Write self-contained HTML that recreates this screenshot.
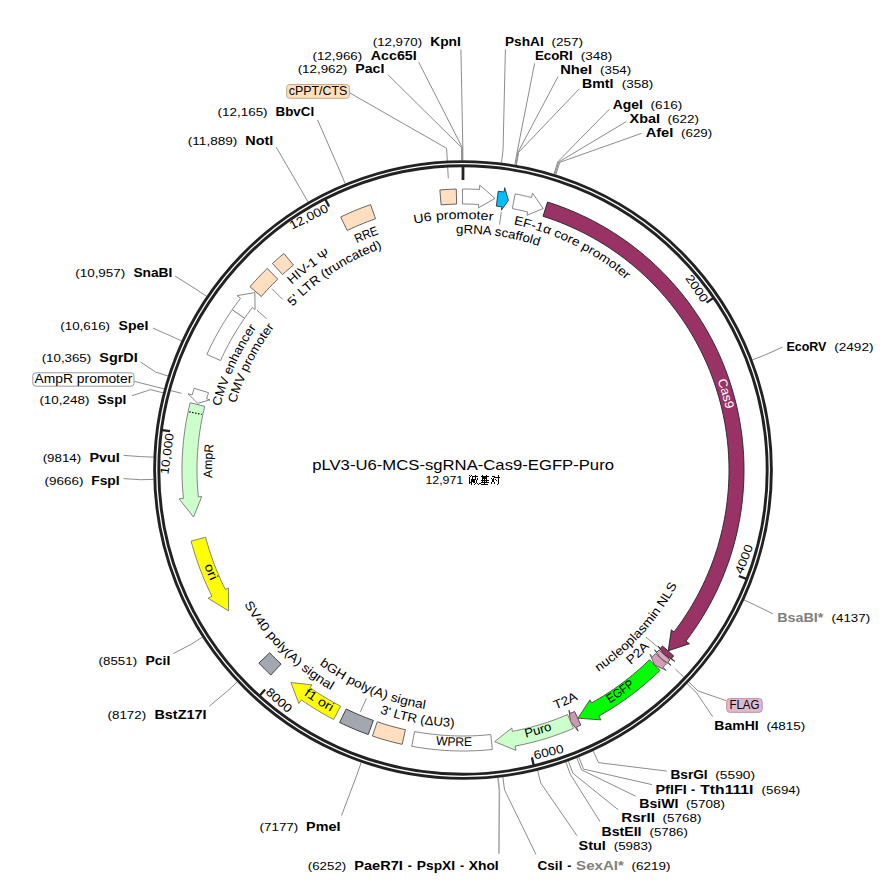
<!DOCTYPE html>
<html><head><meta charset="utf-8"><style>
html,body{margin:0;padding:0;background:#fff;width:888px;height:883px;overflow:hidden}
svg{display:block}
text{font-family:"Liberation Sans", sans-serif}
</style></head><body>
<svg width="888" height="883" viewBox="0 0 888 883">
<path d="M439.88,189.95 L443.97,189.64 L448.07,189.40 L452.18,189.21 L456.28,189.08 L456.64,204.08 L452.75,204.20 L448.87,204.38 L444.99,204.61 L441.11,204.90 Z" fill="#ffdfbf" stroke="#555" stroke-width="0.9" stroke-linejoin="miter" />
<path d="M462.51,189.00 L466.76,189.03 L471.02,189.11 L475.27,189.27 L479.52,189.49 L479.78,185.09 L495.00,198.38 L478.44,207.85 L478.64,204.46 L474.61,204.25 L470.59,204.11 L466.56,204.02 L462.54,204.00 Z" fill="#ffffff" stroke="#7a7a7a" stroke-width="0.9" stroke-linejoin="miter" />
<path d="M498.22,191.22 L501.14,191.60 L504.05,192.01 L504.69,187.66 L508.42,200.30 L501.36,210.22 L501.86,206.85 L499.10,206.46 L496.34,206.10 Z" fill="#00bfff" stroke="#333" stroke-width="0.9" stroke-linejoin="miter" />
<path d="M515.17,193.89 L519.26,194.69 L523.34,195.56 L527.41,196.48 L531.46,197.47 L532.53,193.20 L543.19,208.52 L526.97,215.31 L527.80,212.01 L523.97,211.08 L520.12,210.21 L516.26,209.39 L512.39,208.62 Z" fill="#ffffff" stroke="#7a7a7a" stroke-width="0.9" stroke-linejoin="miter" />
<path d="M547.50,202.01 L552.12,203.51 L556.72,205.09 L561.28,206.75 L565.82,208.49 L570.33,210.31 L574.81,212.20 L579.25,214.17 L583.65,216.22 L588.03,218.35 L592.36,220.55 L596.65,222.82 L600.91,225.17 L605.12,227.59 L609.29,230.09 L613.42,232.65 L617.50,235.29 L621.54,238.00 L625.53,240.77 L629.47,243.62 L633.36,246.53 L637.20,249.51 L640.99,252.56 L644.72,255.67 L648.40,258.84 L652.02,262.08 L655.59,265.38 L659.10,268.74 L662.55,272.16 L665.95,275.64 L669.28,279.18 L672.55,282.78 L675.75,286.43 L678.90,290.14 L681.97,293.90 L684.99,297.71 L687.93,301.58 L690.81,305.49 L693.62,309.46 L696.37,313.47 L699.04,317.53 L701.64,321.64 L704.17,325.79 L706.63,329.98 L709.01,334.21 L711.33,338.49 L713.56,342.80 L715.73,347.16 L717.81,351.54 L719.82,355.97 L721.76,360.43 L723.61,364.92 L725.39,369.44 L727.09,374.00 L728.71,378.58 L730.25,383.19 L731.72,387.82 L733.10,392.48 L734.40,397.17 L735.62,401.87 L736.75,406.60 L737.81,411.34 L738.78,416.10 L739.67,420.88 L740.48,425.67 L741.21,430.48 L741.85,435.29 L742.41,440.12 L742.88,444.96 L743.27,449.80 L743.58,454.65 L743.80,459.51 L743.94,464.37 L744.00,469.23 L743.97,474.09 L743.86,478.95 L743.66,483.80 L743.38,488.65 L743.02,493.50 L742.57,498.34 L742.04,503.17 L741.42,507.99 L740.72,512.80 L739.94,517.60 L739.07,522.38 L738.13,527.15 L737.10,531.90 L735.99,536.63 L734.79,541.34 L733.52,546.03 L732.16,550.70 L730.73,555.34 L729.21,559.96 L727.62,564.55 L725.94,569.11 L724.19,573.64 L722.36,578.15 L720.45,582.62 L718.46,587.05 L716.40,591.45 L714.26,595.82 L712.05,600.14 L709.76,604.43 L707.40,608.68 L704.96,612.88 L702.45,617.05 L699.87,621.17 L697.22,625.24 L694.50,629.27 L691.72,633.25 L688.86,637.18 L685.93,641.06 L689.42,643.74 L668.22,650.80 L671.33,629.86 L674.03,631.93 L676.80,628.26 L679.51,624.54 L682.15,620.77 L684.72,616.95 L687.23,613.10 L689.67,609.20 L692.04,605.26 L694.35,601.28 L696.59,597.25 L698.75,593.20 L700.85,589.10 L702.87,584.97 L704.82,580.80 L706.70,576.60 L708.51,572.37 L710.25,568.11 L711.90,563.82 L713.49,559.50 L715.00,555.16 L716.44,550.79 L717.80,546.39 L719.08,541.97 L720.28,537.53 L721.41,533.07 L722.47,528.59 L723.44,524.10 L724.34,519.58 L725.16,515.06 L725.90,510.52 L726.56,505.96 L727.14,501.40 L727.64,496.83 L728.07,492.25 L728.41,487.66 L728.68,483.07 L728.87,478.47 L728.97,473.87 L729.00,469.27 L728.95,464.67 L728.81,460.07 L728.60,455.47 L728.31,450.88 L727.94,446.30 L727.49,441.72 L726.96,437.15 L726.36,432.59 L725.67,428.04 L724.90,423.50 L724.06,418.98 L723.14,414.47 L722.14,409.98 L721.06,405.51 L719.91,401.05 L718.68,396.62 L717.37,392.21 L715.99,387.82 L714.53,383.46 L712.99,379.12 L711.38,374.81 L709.70,370.53 L707.94,366.28 L706.11,362.06 L704.21,357.87 L702.23,353.71 L700.19,349.59 L698.07,345.51 L695.88,341.46 L693.62,337.45 L691.30,333.48 L688.90,329.56 L686.44,325.67 L683.91,321.83 L681.31,318.03 L678.65,314.28 L675.93,310.57 L673.14,306.91 L670.29,303.30 L667.37,299.74 L664.40,296.23 L661.36,292.77 L658.27,289.37 L655.11,286.02 L651.90,282.72 L648.63,279.49 L645.31,276.30 L641.93,273.18 L638.50,270.11 L635.02,267.11 L631.49,264.16 L627.90,261.28 L624.27,258.46 L620.58,255.70 L616.85,253.01 L613.08,250.38 L609.26,247.82 L605.39,245.32 L601.49,242.89 L597.54,240.53 L593.55,238.24 L589.52,236.02 L585.45,233.86 L581.35,231.78 L577.21,229.77 L573.04,227.83 L568.84,225.96 L564.60,224.17 L560.33,222.45 L556.04,220.80 L551.71,219.23 L547.36,217.73 L542.99,216.31 Z" fill="#993366" stroke="#222" stroke-width="0.9" stroke-linejoin="miter" />
<path d="M673.72,655.90 L671.50,658.39 L674.76,661.34 L664.48,654.95 L657.84,646.05 L660.37,648.33 L662.47,645.98 Z" fill="#993366" stroke="#222" stroke-width="0.9" stroke-linejoin="miter" />
<path d="M670.01,660.02 L667.84,662.36 L671.05,665.37 L661.06,658.61 L654.43,649.76 L656.91,652.09 L658.96,649.88 Z" fill="#d7a6c0" stroke="#444" stroke-width="0.9" stroke-linejoin="miter" />
<path d="M666.49,663.78 L664.79,665.55 L663.08,667.31 L666.21,670.39 L654.70,665.07 L649.98,654.39 L652.40,656.77 L654.02,655.11 L655.63,653.44 Z" fill="#d49ebb" stroke="#555" stroke-width="0.9" stroke-linejoin="miter" />
<path d="M659.96,670.42 L656.52,673.75 L653.02,677.01 L649.47,680.21 L645.87,683.36 L642.21,686.44 L638.50,689.45 L634.74,692.41 L630.93,695.30 L627.07,698.12 L623.17,700.88 L619.22,703.57 L615.22,706.20 L611.18,708.76 L607.09,711.24 L602.97,713.66 L598.80,716.01 L600.93,719.86 L577.94,718.18 L589.91,699.90 L591.55,702.87 L595.50,700.65 L599.40,698.36 L603.27,696.01 L607.09,693.59 L610.88,691.11 L614.62,688.56 L618.32,685.95 L621.97,683.27 L625.57,680.54 L629.13,677.74 L632.64,674.88 L636.11,671.97 L639.52,668.99 L642.88,665.96 L646.19,662.87 L649.44,659.72 Z" fill="#00ff00" stroke="#444" stroke-width="0.9" stroke-linejoin="miter" />
<path d="M580.87,725.09 L578.64,726.10 L576.40,727.10 L578.17,731.13 L570.52,721.48 L568.97,710.27 L570.34,713.38 L572.46,712.43 L574.57,711.47 Z" fill="#cc99b2" stroke="#444" stroke-width="0.9" stroke-linejoin="miter" />
<path d="M573.47,728.37 L569.14,730.18 L564.77,731.92 L560.38,733.59 L555.96,735.18 L551.52,736.69 L547.05,738.14 L542.56,739.50 L538.04,740.80 L533.50,742.01 L528.95,743.15 L524.37,744.22 L519.78,745.20 L515.17,746.11 L515.99,750.44 L494.67,741.66 L511.76,728.03 L512.39,731.38 L516.75,730.51 L521.10,729.58 L525.43,728.57 L529.74,727.49 L534.03,726.34 L538.31,725.12 L542.56,723.82 L546.79,722.46 L551.00,721.02 L555.18,719.52 L559.34,717.94 L563.47,716.30 L567.58,714.58 Z" fill="#ccffcc" stroke="#777" stroke-width="0.9" stroke-linejoin="miter" />
<path d="M492.37,749.46 L487.63,749.92 L482.89,750.30 L478.14,750.59 L473.38,750.81 L468.63,750.94 L463.87,751.00 L459.11,750.97 L454.35,750.87 L449.59,750.68 L444.84,750.41 L440.09,750.06 L435.35,749.64 L430.62,749.13 L425.89,748.54 L421.18,747.87 L416.48,747.12 L411.79,746.29 L414.53,731.55 L418.96,732.33 L423.41,733.04 L427.87,733.67 L432.35,734.23 L436.83,734.71 L441.31,735.11 L445.81,735.44 L450.31,735.70 L454.81,735.87 L459.31,735.97 L463.82,736.00 L468.32,735.95 L472.83,735.82 L477.33,735.61 L481.83,735.33 L486.32,734.98 L490.80,734.54 Z" fill="#ffffff" stroke="#7a7a7a" stroke-width="0.9" stroke-linejoin="miter" />
<path d="M402.18,744.34 L397.88,743.35 L393.59,742.29 L389.32,741.17 L385.07,739.98 L380.84,738.72 L376.63,737.40 L372.44,736.01 L377.28,721.81 L381.24,723.12 L385.23,724.38 L389.23,725.57 L393.26,726.69 L397.30,727.76 L401.36,728.76 L405.43,729.69 Z" fill="#ffdfbf" stroke="#555" stroke-width="0.9" stroke-linejoin="miter" />
<path d="M368.28,734.55 L364.10,733.02 L359.95,731.42 L355.82,729.76 L351.72,728.03 L347.65,726.23 L343.61,724.38 L339.60,722.45 L346.18,708.98 L349.98,710.80 L353.81,712.56 L357.66,714.25 L361.54,715.89 L365.45,717.47 L369.38,718.98 L373.33,720.43 Z" fill="#a3a8b0" stroke="#333" stroke-width="0.9" stroke-linejoin="miter" />
<path d="M333.68,719.48 L329.51,717.27 L325.38,714.99 L321.28,712.65 L317.22,710.23 L313.21,707.75 L309.24,705.20 L305.31,702.58 L301.42,699.90 L298.89,703.50 L290.88,682.55 L312.00,684.85 L310.05,687.63 L313.73,690.17 L317.45,692.64 L321.21,695.06 L325.01,697.41 L328.85,699.69 L332.72,701.91 L336.64,704.07 L340.59,706.16 Z" fill="#ffff00" stroke="#777" stroke-width="0.9" stroke-linejoin="miter" />
<path d="M270.82,675.01 L267.76,672.09 L264.74,669.13 L261.76,666.12 L258.83,663.07 L269.73,652.77 L272.50,655.65 L275.32,658.50 L278.18,661.30 L281.08,664.06 Z" fill="#a3a8b0" stroke="#333" stroke-width="0.9" stroke-linejoin="miter" />
<path d="M191.14,541.07 L192.32,545.46 L193.58,549.83 L194.90,554.17 L196.30,558.50 L197.77,562.80 L199.30,567.08 L200.91,571.34 L202.58,575.56 L204.32,579.76 L206.13,583.93 L208.01,588.07 L209.95,592.18 L211.96,596.26 L208.03,598.24 L228.56,610.86 L228.40,587.99 L225.36,589.52 L223.46,585.66 L221.62,581.77 L219.84,577.85 L218.13,573.90 L216.48,569.93 L214.90,565.93 L213.38,561.90 L211.93,557.85 L210.54,553.78 L209.21,549.68 L207.96,545.57 L206.77,541.43 L205.65,537.28 Z" fill="#ffff00" stroke="#777" stroke-width="0.9" stroke-linejoin="miter" />
<path d="M190.17,402.73 L189.06,407.42 L188.02,412.13 L187.07,416.85 L186.20,421.59 L185.41,426.34 L184.70,431.11 L184.08,435.89 L183.53,440.68 L183.07,445.47 L182.69,450.28 L182.40,455.09 L182.18,459.90 L182.05,464.72 L182.00,469.53 L182.03,474.35 L182.15,479.17 L182.35,483.98 L182.63,488.79 L182.99,493.60 L183.44,498.40 L179.06,498.84 L193.57,517.02 L201.74,496.54 L198.36,496.88 L197.94,492.34 L197.60,487.79 L197.33,483.24 L197.14,478.68 L197.03,474.12 L197.00,469.56 L197.05,465.00 L197.17,460.44 L197.37,455.88 L197.66,451.33 L198.02,446.78 L198.45,442.24 L198.97,437.71 L199.56,433.19 L200.23,428.68 L200.98,424.18 L201.80,419.69 L202.70,415.22 L203.68,410.76 L204.73,406.32 Z" fill="#ccffcc" stroke="#777" stroke-width="0.9" stroke-linejoin="miter" />
<path d="M194.14,388.31 L193.16,391.60 L192.22,394.91 L187.98,393.73 L197.74,403.37 L209.95,399.82 L206.67,398.91 L207.56,395.79 L208.49,392.67 Z" fill="#ffffff" stroke="#7a7a7a" stroke-width="0.9" stroke-linejoin="miter" />
<path d="M206.90,354.36 L208.86,350.11 L210.89,345.90 L212.99,341.71 L215.16,337.57 L217.40,333.46 L219.71,329.38 L222.09,325.35 L224.53,321.36 L227.04,317.41 L229.62,313.50 L232.26,309.63 L244.57,318.19 L242.08,321.85 L239.64,325.55 L237.26,329.29 L234.95,333.07 L232.70,336.89 L230.52,340.75 L228.39,344.64 L226.34,348.56 L224.35,352.52 L222.42,356.51 L220.57,360.54 Z" fill="#ffffff" stroke="#7a7a7a" stroke-width="0.9" stroke-linejoin="miter" />
<path d="M232.26,309.63 L234.95,305.83 L237.70,302.07 L240.52,298.35 L237.03,295.67 L254.87,292.56 L255.08,309.59 L252.39,307.52 L249.73,311.03 L247.12,314.59 L244.57,318.19 Z" fill="#ffffff" stroke="#7a7a7a" stroke-width="0.9" stroke-linejoin="miter" />
<path d="M249.96,286.76 L252.73,283.59 L255.55,280.46 L258.41,277.37 L261.32,274.33 L264.27,271.33 L267.27,268.38 L277.72,279.14 L274.88,281.94 L272.09,284.78 L269.33,287.66 L266.62,290.58 L263.96,293.54 L261.34,296.54 Z" fill="#ffdfbf" stroke="#555" stroke-width="0.9" stroke-linejoin="miter" />
<path d="M272.44,263.49 L275.25,260.93 L278.09,258.41 L280.97,255.93 L283.88,253.49 L293.45,265.04 L290.69,267.36 L287.96,269.70 L285.27,272.09 L282.61,274.51 Z" fill="#ffdfbf" stroke="#555" stroke-width="0.9" stroke-linejoin="miter" />
<path d="M340.70,217.01 L344.88,215.03 L349.09,213.12 L353.33,211.28 L357.61,209.51 L361.91,207.81 L366.23,206.19 L370.59,204.63 L375.52,218.80 L371.40,220.27 L367.30,221.81 L363.23,223.42 L359.19,225.09 L355.17,226.84 L351.18,228.64 L347.23,230.52 Z" fill="#ffdfbf" stroke="#555" stroke-width="0.9" stroke-linejoin="miter" />
<line x1="189.12" y1="411.78" x2="201.83" y2="414.49" stroke="#111" stroke-width="1.2" stroke-dasharray="1.6,1.4"/>
<polyline points="460.90,49.30 462.84,147.50 462.85,160.40" fill="none" stroke="#8c8c8c" stroke-width="1"/>
<polyline points="418.70,62.20 462.22,147.50 462.25,160.40" fill="none" stroke="#8c8c8c" stroke-width="1"/>
<polyline points="387.80,74.60 461.59,147.50 461.65,160.40" fill="none" stroke="#8c8c8c" stroke-width="1"/>
<polyline points="317.50,119.80 340.26,171.77 345.17,183.70" fill="none" stroke="#8c8c8c" stroke-width="1"/>
<polyline points="276.10,147.00 301.60,190.79 308.06,201.96" fill="none" stroke="#8c8c8c" stroke-width="1"/>
<polyline points="175.20,276.10 195.96,289.18 206.64,296.41" fill="none" stroke="#8c8c8c" stroke-width="1"/>
<polyline points="152.90,328.10 169.86,335.55 181.59,340.93" fill="none" stroke="#8c8c8c" stroke-width="1"/>
<polyline points="140.50,362.00 155.72,372.10 168.01,376.01" fill="none" stroke="#8c8c8c" stroke-width="1"/>
<polyline points="131.90,395.70 150.67,389.66 163.16,392.87" fill="none" stroke="#8c8c8c" stroke-width="1"/>
<polyline points="123.60,455.40 140.78,456.61 153.67,457.14" fill="none" stroke="#8c8c8c" stroke-width="1"/>
<polyline points="123.60,478.60 140.65,479.72 153.54,479.33" fill="none" stroke="#8c8c8c" stroke-width="1"/>
<polyline points="173.30,653.60 191.53,644.10 202.39,637.14" fill="none" stroke="#8c8c8c" stroke-width="1"/>
<polyline points="209.40,706.10 227.88,690.74 237.28,681.91" fill="none" stroke="#8c8c8c" stroke-width="1"/>
<polyline points="341.50,815.60 356.98,774.58 361.22,762.39" fill="none" stroke="#8c8c8c" stroke-width="1"/>
<polyline points="498.90,853.80 499.40,790.44 497.94,777.62" fill="none" stroke="#a8a8a8" stroke-width="1.6"/>
<polyline points="536.00,854.60 504.52,789.82 502.86,777.02" fill="none" stroke="#8c8c8c" stroke-width="1"/>
<polyline points="577.00,835.70 540.73,782.99 537.62,770.47" fill="none" stroke="#8c8c8c" stroke-width="1"/>
<polyline points="600.00,821.60 570.20,774.16 565.91,762.00" fill="none" stroke="#8c8c8c" stroke-width="1"/>
<polyline points="618.10,809.70 572.84,773.22 568.45,761.09" fill="none" stroke="#8c8c8c" stroke-width="1"/>
<polyline points="635.70,796.20 581.61,769.90 576.87,757.90" fill="none" stroke="#8c8c8c" stroke-width="1"/>
<polyline points="651.90,784.60 583.64,769.09 578.82,757.12" fill="none" stroke="#8c8c8c" stroke-width="1"/>
<polyline points="666.80,771.10 598.55,762.63 593.13,750.93" fill="none" stroke="#8c8c8c" stroke-width="1"/>
<polyline points="712.60,716.60 696.40,692.55 687.07,683.65" fill="none" stroke="#8c8c8c" stroke-width="1"/>
<polyline points="773.00,613.90 755.71,605.37 744.00,599.96" fill="none" stroke="#8c8c8c" stroke-width="1"/>
<polyline points="782.60,347.10 764.41,355.29 752.35,359.87" fill="none" stroke="#8c8c8c" stroke-width="1"/>
<polyline points="641.60,133.30 559.75,162.35 555.88,174.66" fill="none" stroke="#8c8c8c" stroke-width="1"/>
<polyline points="626.30,121.60 558.71,162.03 554.88,174.35" fill="none" stroke="#8c8c8c" stroke-width="1"/>
<polyline points="609.40,109.20 557.81,161.75 554.02,174.08" fill="none" stroke="#8c8c8c" stroke-width="1"/>
<polyline points="579.20,88.90 518.65,152.34 516.42,165.04" fill="none" stroke="#8c8c8c" stroke-width="1"/>
<polyline points="558.10,76.50 518.03,152.23 515.83,164.94" fill="none" stroke="#8c8c8c" stroke-width="1"/>
<polyline points="534.60,63.40 517.11,152.07 514.94,164.79" fill="none" stroke="#8c8c8c" stroke-width="1"/>
<polyline points="505.40,49.30 503.04,150.00 501.44,162.80" fill="none" stroke="#8c8c8c" stroke-width="1"/>
<polyline points="349.90,93.00 446.60,148.30 448.30,178.30" fill="none" stroke="#8c8c8c" stroke-width="1"/>
<polyline points="134.50,381.40 181.40,393.30" fill="none" stroke="#8c8c8c" stroke-width="1"/>
<polyline points="726.20,700.70 698.00,690.90 675.40,669.10" fill="none" stroke="#8c8c8c" stroke-width="1"/>
<polyline points="501.30,211.80 499.60,224.50" fill="none" stroke="#8c8c8c" stroke-width="1"/>
<polyline points="271.90,288.60 282.70,299.50" fill="none" stroke="#8c8c8c" stroke-width="1"/>
<polyline points="257.00,310.20 266.60,318.70" fill="none" stroke="#8c8c8c" stroke-width="1"/>
<polyline points="646.00,637.20 657.20,646.60" fill="none" stroke="#8c8c8c" stroke-width="1"/>
<polyline points="366.40,698.40 360.40,711.90" fill="none" stroke="#8c8c8c" stroke-width="1"/>
<circle cx="463.0" cy="470.0" r="306.29999999999995" fill="none" stroke="#222" stroke-width="7.099999999999989"/>
<circle cx="463.0" cy="470.0" r="306.29999999999995" fill="none" stroke="#fff" stroke-width="1.2999999999999887"/>
<line x1="463.00" y1="166.50" x2="463.00" y2="180.00" stroke="#222" stroke-width="2.8"/>
<line x1="713.15" y1="298.13" x2="706.55" y2="302.66" stroke="#222" stroke-width="2.3"/>
<text x="0" y="0" transform="translate(702.12,303.28) rotate(55.51)" text-anchor="end" font-size="12" textLength="30.40" lengthAdjust="spacingAndGlyphs">2000</text>
<line x1="746.31" y1="578.85" x2="738.84" y2="575.98" stroke="#222" stroke-width="2.3"/>
<text x="0" y="0" transform="translate(742.28,574.84) rotate(-68.98)" text-anchor="start" font-size="12" textLength="30.40" lengthAdjust="spacingAndGlyphs">4000</text>
<line x1="533.72" y1="765.15" x2="531.86" y2="757.37" stroke="#222" stroke-width="2.3"/>
<text x="0" y="0" transform="translate(534.75,759.55) rotate(-13.47)" text-anchor="start" font-size="12" textLength="30.40" lengthAdjust="spacingAndGlyphs">6000</text>
<line x1="259.79" y1="695.42" x2="265.14" y2="689.48" stroke="#222" stroke-width="2.3"/>
<text x="0" y="0" transform="translate(264.98,693.10) rotate(42.03)" text-anchor="start" font-size="12" textLength="30.40" lengthAdjust="spacingAndGlyphs">8000</text>
<line x1="162.13" y1="430.16" x2="170.06" y2="431.21" stroke="#222" stroke-width="2.3"/>
<text x="0" y="0" transform="translate(173.76,433.72) rotate(277.54)" text-anchor="end" font-size="12" textLength="41.50" lengthAdjust="spacingAndGlyphs">10,000</text>
<line x1="325.45" y1="199.46" x2="329.08" y2="206.59" stroke="#222" stroke-width="2.3"/>
<text x="0" y="0" transform="translate(329.11,211.06) rotate(333.05)" text-anchor="end" font-size="12" textLength="41.50" lengthAdjust="spacingAndGlyphs">12,000</text>
<text x="372.80" y="46.00" font-size="11.3" font-weight="normal" fill="#000" textLength="49.30" lengthAdjust="spacingAndGlyphs">(12,970)</text>
<text x="430.20" y="46.00" font-size="12.2" font-weight="bold" fill="#000" textLength="30.60" lengthAdjust="spacingAndGlyphs">KpnI</text>
<text x="312.50" y="59.70" font-size="11.3" font-weight="normal" fill="#000" textLength="49.70" lengthAdjust="spacingAndGlyphs">(12,966)</text>
<text x="370.80" y="59.70" font-size="12.2" font-weight="bold" fill="#000" textLength="45.90" lengthAdjust="spacingAndGlyphs">Acc65I</text>
<text x="297.70" y="73.30" font-size="11.3" font-weight="normal" fill="#000" textLength="49.60" lengthAdjust="spacingAndGlyphs">(12,962)</text>
<text x="355.20" y="73.30" font-size="12.2" font-weight="bold" fill="#000" textLength="29.20" lengthAdjust="spacingAndGlyphs">PacI</text>
<text x="217.50" y="116.10" font-size="11.3" font-weight="normal" fill="#000" textLength="50.10" lengthAdjust="spacingAndGlyphs">(12,165)</text>
<text x="275.50" y="116.10" font-size="12.2" font-weight="bold" fill="#000" textLength="38.70" lengthAdjust="spacingAndGlyphs">BbvCI</text>
<text x="187.80" y="144.60" font-size="11.3" font-weight="normal" fill="#000" textLength="49.60" lengthAdjust="spacingAndGlyphs">(11,889)</text>
<text x="245.30" y="144.60" font-size="12.2" font-weight="bold" fill="#000" textLength="28.00" lengthAdjust="spacingAndGlyphs">NotI</text>
<text x="75.20" y="277.30" font-size="11.3" font-weight="normal" fill="#000" textLength="50.10" lengthAdjust="spacingAndGlyphs">(10,957)</text>
<text x="133.40" y="277.30" font-size="12.2" font-weight="bold" fill="#000" textLength="39.00" lengthAdjust="spacingAndGlyphs">SnaBI</text>
<text x="60.30" y="330.10" font-size="11.3" font-weight="normal" fill="#000" textLength="49.70" lengthAdjust="spacingAndGlyphs">(10,616)</text>
<text x="118.60" y="330.10" font-size="12.2" font-weight="bold" fill="#000" textLength="29.80" lengthAdjust="spacingAndGlyphs">SpeI</text>
<text x="41.70" y="362.30" font-size="11.3" font-weight="normal" fill="#000" textLength="49.50" lengthAdjust="spacingAndGlyphs">(10,365)</text>
<text x="99.30" y="362.30" font-size="12.2" font-weight="bold" fill="#000" textLength="38.50" lengthAdjust="spacingAndGlyphs">SgrDI</text>
<text x="39.40" y="404.20" font-size="11.3" font-weight="normal" fill="#000" textLength="50.00" lengthAdjust="spacingAndGlyphs">(10,248)</text>
<text x="97.50" y="404.20" font-size="12.2" font-weight="bold" fill="#000" textLength="28.90" lengthAdjust="spacingAndGlyphs">SspI</text>
<text x="42.70" y="461.80" font-size="11.3" font-weight="normal" fill="#000" textLength="38.50" lengthAdjust="spacingAndGlyphs">(9814)</text>
<text x="89.40" y="461.80" font-size="12.2" font-weight="bold" fill="#000" textLength="30.30" lengthAdjust="spacingAndGlyphs">PvuI</text>
<text x="44.50" y="485.00" font-size="11.3" font-weight="normal" fill="#000" textLength="38.90" lengthAdjust="spacingAndGlyphs">(9666)</text>
<text x="91.20" y="485.00" font-size="12.2" font-weight="bold" fill="#000" textLength="28.50" lengthAdjust="spacingAndGlyphs">FspI</text>
<text x="98.60" y="664.90" font-size="11.3" font-weight="normal" fill="#000" textLength="38.50" lengthAdjust="spacingAndGlyphs">(8551)</text>
<text x="145.50" y="664.90" font-size="12.2" font-weight="bold" fill="#000" textLength="24.90" lengthAdjust="spacingAndGlyphs">PciI</text>
<text x="107.60" y="719.00" font-size="11.3" font-weight="normal" fill="#000" textLength="38.50" lengthAdjust="spacingAndGlyphs">(8172)</text>
<text x="154.50" y="719.00" font-size="12.2" font-weight="bold" fill="#000" textLength="51.90" lengthAdjust="spacingAndGlyphs">BstZ17I</text>
<text x="259.60" y="831.00" font-size="11.3" font-weight="normal" fill="#000" textLength="38.60" lengthAdjust="spacingAndGlyphs">(7177)</text>
<text x="306.10" y="831.00" font-size="12.2" font-weight="bold" fill="#000" textLength="34.30" lengthAdjust="spacingAndGlyphs">PmeI</text>
<text x="578.50" y="849.50" font-size="12.2" font-weight="bold" fill="#000" textLength="27.30" lengthAdjust="spacingAndGlyphs">StuI</text>
<text x="613.70" y="849.50" font-size="11.3" font-weight="normal" fill="#000" textLength="38.60" lengthAdjust="spacingAndGlyphs">(5983)</text>
<text x="601.50" y="836.00" font-size="12.2" font-weight="bold" fill="#000" textLength="40.00" lengthAdjust="spacingAndGlyphs">BstEII</text>
<text x="649.60" y="836.00" font-size="11.3" font-weight="normal" fill="#000" textLength="38.30" lengthAdjust="spacingAndGlyphs">(5786)</text>
<text x="621.20" y="821.60" font-size="12.2" font-weight="bold" fill="#000" textLength="33.80" lengthAdjust="spacingAndGlyphs">RsrII</text>
<text x="662.60" y="821.60" font-size="11.3" font-weight="normal" fill="#000" textLength="38.80" lengthAdjust="spacingAndGlyphs">(5768)</text>
<text x="639.30" y="807.60" font-size="12.2" font-weight="bold" fill="#000" textLength="39.20" lengthAdjust="spacingAndGlyphs">BsiWI</text>
<text x="686.10" y="807.60" font-size="11.3" font-weight="normal" fill="#000" textLength="38.80" lengthAdjust="spacingAndGlyphs">(5708)</text>
<text x="670.40" y="779.20" font-size="12.2" font-weight="bold" fill="#000" textLength="37.30" lengthAdjust="spacingAndGlyphs">BsrGI</text>
<text x="715.30" y="779.20" font-size="11.3" font-weight="normal" fill="#000" textLength="39.70" lengthAdjust="spacingAndGlyphs">(5590)</text>
<text x="714.30" y="730.00" font-size="12.2" font-weight="bold" fill="#000" textLength="44.40" lengthAdjust="spacingAndGlyphs">BamHI</text>
<text x="766.40" y="730.00" font-size="11.3" font-weight="normal" fill="#000" textLength="38.80" lengthAdjust="spacingAndGlyphs">(4815)</text>
<text x="786.40" y="351.10" font-size="12.2" font-weight="bold" fill="#000" textLength="40.00" lengthAdjust="spacingAndGlyphs">EcoRV</text>
<text x="834.20" y="351.10" font-size="11.3" font-weight="normal" fill="#000" textLength="39.30" lengthAdjust="spacingAndGlyphs">(2492)</text>
<text x="645.70" y="137.00" font-size="12.2" font-weight="bold" fill="#000" textLength="27.60" lengthAdjust="spacingAndGlyphs">AfeI</text>
<text x="681.10" y="137.00" font-size="11.3" font-weight="normal" fill="#000" textLength="31.10" lengthAdjust="spacingAndGlyphs">(629)</text>
<text x="629.60" y="122.90" font-size="12.2" font-weight="bold" fill="#000" textLength="30.50" lengthAdjust="spacingAndGlyphs">XbaI</text>
<text x="667.50" y="122.90" font-size="11.3" font-weight="normal" fill="#000" textLength="31.50" lengthAdjust="spacingAndGlyphs">(622)</text>
<text x="612.70" y="109.20" font-size="12.2" font-weight="bold" fill="#000" textLength="30.10" lengthAdjust="spacingAndGlyphs">AgeI</text>
<text x="650.60" y="109.20" font-size="11.3" font-weight="normal" fill="#000" textLength="31.60" lengthAdjust="spacingAndGlyphs">(616)</text>
<text x="582.00" y="88.20" font-size="12.2" font-weight="bold" fill="#000" textLength="31.50" lengthAdjust="spacingAndGlyphs">BmtI</text>
<text x="621.70" y="88.20" font-size="11.3" font-weight="normal" fill="#000" textLength="31.50" lengthAdjust="spacingAndGlyphs">(358)</text>
<text x="560.20" y="73.80" font-size="12.2" font-weight="bold" fill="#000" textLength="31.80" lengthAdjust="spacingAndGlyphs">NheI</text>
<text x="600.10" y="73.80" font-size="11.3" font-weight="normal" fill="#000" textLength="31.00" lengthAdjust="spacingAndGlyphs">(354)</text>
<text x="534.90" y="59.70" font-size="12.2" font-weight="bold" fill="#000" textLength="37.80" lengthAdjust="spacingAndGlyphs">EcoRI</text>
<text x="580.80" y="59.70" font-size="11.3" font-weight="normal" fill="#000" textLength="31.50" lengthAdjust="spacingAndGlyphs">(348)</text>
<text x="505.00" y="46.10" font-size="12.2" font-weight="bold" fill="#000" textLength="38.70" lengthAdjust="spacingAndGlyphs">PshAI</text>
<text x="551.50" y="46.10" font-size="11.3" font-weight="normal" fill="#000" textLength="31.60" lengthAdjust="spacingAndGlyphs">(257)</text>
<text x="777.20" y="622.10" font-size="12.2" font-weight="bold" fill="#808080" textLength="46.20" lengthAdjust="spacingAndGlyphs">BsaBI*</text>
<text x="831.60" y="622.10" font-size="11.3" font-weight="normal" fill="#000" textLength="38.50" lengthAdjust="spacingAndGlyphs">(4137)</text>
<text x="537.60" y="869.60" font-size="12.2" font-weight="bold" fill="#000" textLength="24.80" lengthAdjust="spacingAndGlyphs">CsiI</text>
<text x="567.3" y="869.6" font-size="12.2" font-weight="bold">-</text>
<text x="307.80" y="869.60" font-size="11.3" font-weight="normal" fill="#000" textLength="38.40" lengthAdjust="spacingAndGlyphs">(6252)</text>
<text x="354.30" y="869.60" font-size="12.2" font-weight="bold" fill="#000" textLength="48.50" lengthAdjust="spacingAndGlyphs">PaeR7I</text>
<text x="407.7" y="869.6" font-size="12.2" font-weight="bold">-</text>
<text x="416.80" y="869.60" font-size="12.2" font-weight="bold" fill="#000" textLength="38.30" lengthAdjust="spacingAndGlyphs">PspXI</text>
<text x="460.0" y="869.6" font-size="12.2" font-weight="bold">-</text>
<text x="468.70" y="869.60" font-size="12.2" font-weight="bold" fill="#000" textLength="30.00" lengthAdjust="spacingAndGlyphs">XhoI</text>
<text x="655.50" y="793.50" font-size="12.2" font-weight="bold" fill="#000" textLength="31.20" lengthAdjust="spacingAndGlyphs">PflFI</text>
<text x="690.9" y="793.5" font-size="12.2" font-weight="bold">-</text>
<text x="700.30" y="793.50" font-size="12.2" font-weight="bold" fill="#000" textLength="53.10" lengthAdjust="spacingAndGlyphs">Tth111I</text>
<text x="761.60" y="793.50" font-size="11.3" font-weight="normal" fill="#000" textLength="38.60" lengthAdjust="spacingAndGlyphs">(5694)</text>
<text x="576.10" y="869.60" font-size="12.2" font-weight="bold" fill="#808080" textLength="47.80" lengthAdjust="spacingAndGlyphs">SexAI*</text>
<text x="631.50" y="869.60" font-size="11.3" font-weight="normal" fill="#000" textLength="38.90" lengthAdjust="spacingAndGlyphs">(6219)</text>
<rect x="286.70" y="84.50" width="62.70" height="13.80" rx="3" ry="3" fill="#ffdfbf" stroke="#c8a888" stroke-width="1"/>
<text x="288.70" y="95.10" font-size="12.4" font-weight="normal" fill="#000" textLength="58.60" lengthAdjust="spacingAndGlyphs">cPPT/CTS</text>
<rect x="32.80" y="372.80" width="101.20" height="13.40" rx="3" ry="3" fill="#ffffff" stroke="#9a9a9a" stroke-width="1"/>
<text x="34.50" y="383.10" font-size="12.4" font-weight="normal" fill="#000" textLength="97.80" lengthAdjust="spacingAndGlyphs">AmpR promoter</text>
<rect x="726.70" y="698.60" width="35.50" height="13.70" rx="3" ry="3" fill="#e0b8cc" stroke="#c090a8" stroke-width="1"/>
<text x="729.40" y="709.30" font-size="12.4" font-weight="normal" fill="#000" textLength="30.10" lengthAdjust="spacingAndGlyphs">FLAG</text>
<text font-size="12.5" fill="#000"><textPath href="#lp1" startOffset="50%" text-anchor="middle" textLength="79.08" lengthAdjust="spacingAndGlyphs">U6 promoter</textPath></text>
<text font-size="12.5" fill="#000"><textPath href="#lp2" startOffset="50%" text-anchor="middle" textLength="84.18" lengthAdjust="spacingAndGlyphs">gRNA scaffold</textPath></text>
<text font-size="12.5" fill="#000"><textPath href="#lp3" startOffset="50%" text-anchor="middle" textLength="126.88" lengthAdjust="spacingAndGlyphs">EF-1α core promoter</textPath></text>
<text font-size="12.5" fill="#fff"><textPath href="#lp4" startOffset="50%" text-anchor="middle" textLength="30.26" lengthAdjust="spacingAndGlyphs">Cas9</textPath></text>
<text font-size="12.5" fill="#000"><textPath href="#lp5" startOffset="50%" text-anchor="middle" textLength="118.30" lengthAdjust="spacingAndGlyphs">nucleoplasmin NLS</textPath></text>
<text font-size="12.5" fill="#000"><textPath href="#lp6" startOffset="50%" text-anchor="middle" textLength="26.34" lengthAdjust="spacingAndGlyphs">P2A</textPath></text>
<text font-size="12.5" fill="#000"><textPath href="#lp7" startOffset="50%" text-anchor="middle" textLength="30.98" lengthAdjust="spacingAndGlyphs">EGFP</textPath></text>
<text font-size="12.5" fill="#000"><textPath href="#lp8" startOffset="50%" text-anchor="middle" textLength="25.03" lengthAdjust="spacingAndGlyphs">T2A</textPath></text>
<text font-size="12.5" fill="#000"><textPath href="#lp9" startOffset="50%" text-anchor="middle" textLength="27.70" lengthAdjust="spacingAndGlyphs">Puro</textPath></text>
<text font-size="12.5" fill="#000"><textPath href="#lp10" startOffset="50%" text-anchor="middle" textLength="36.60" lengthAdjust="spacingAndGlyphs">WPRE</textPath></text>
<text font-size="12.5" fill="#000"><textPath href="#lp11" startOffset="50%" text-anchor="middle" textLength="76.01" lengthAdjust="spacingAndGlyphs">3' LTR (ΔU3)</textPath></text>
<text font-size="12.5" fill="#000"><textPath href="#lp12" startOffset="50%" text-anchor="middle" textLength="115.79" lengthAdjust="spacingAndGlyphs">bGH poly(A) signal</textPath></text>
<text font-size="12.5" fill="#000"><textPath href="#lp13" startOffset="50%" text-anchor="middle" textLength="32.38" lengthAdjust="spacingAndGlyphs">f1 ori</textPath></text>
<text font-size="12.5" fill="#000"><textPath href="#lp14" startOffset="50%" text-anchor="middle" textLength="123.25" lengthAdjust="spacingAndGlyphs">SV40 poly(A) signal</textPath></text>
<text font-size="12.5" fill="#000"><textPath href="#lp15" startOffset="50%" text-anchor="middle" textLength="16.78" lengthAdjust="spacingAndGlyphs">ori</textPath></text>
<text font-size="12.5" fill="#000"><textPath href="#lp16" startOffset="50%" text-anchor="middle" textLength="33.63" lengthAdjust="spacingAndGlyphs">AmpR</textPath></text>
<text font-size="12.5" fill="#000"><textPath href="#lp17" startOffset="50%" text-anchor="middle" textLength="87.20" lengthAdjust="spacingAndGlyphs">CMV enhancer</textPath></text>
<text font-size="12.5" fill="#000"><textPath href="#lp18" startOffset="50%" text-anchor="middle" textLength="86.21" lengthAdjust="spacingAndGlyphs">CMV promoter</textPath></text>
<text font-size="12.5" fill="#000"><textPath href="#lp19" startOffset="50%" text-anchor="middle" textLength="108.12" lengthAdjust="spacingAndGlyphs">5' LTR (truncated)</textPath></text>
<text font-size="12.5" fill="#000"><textPath href="#lp20" startOffset="50%" text-anchor="middle" textLength="48.94" lengthAdjust="spacingAndGlyphs">HIV-1 Ψ</textPath></text>
<text font-size="12.5" fill="#000"><textPath href="#lp21" startOffset="50%" text-anchor="middle" textLength="24.28" lengthAdjust="spacingAndGlyphs">RRE</textPath></text>
<defs><path id="lp1" d="M223.96,393.15 A251.09,251.09 0 0 1 695.51,375.22"/><path id="lp2" d="M255.15,357.19 A236.49,236.49 0 0 1 694.73,422.81"/><path id="lp3" d="M289.15,289.37 A250.70,250.70 0 0 1 712.28,496.62"/><path id="lp4" d="M480.74,200.78 A269.81,269.81 0 0 1 622.47,687.64"/><path id="lp5" d="M371.16,695.16 A243.17,243.17 0 0 0 678.09,356.55"/><path id="lp6" d="M348.74,700.45 A257.22,257.22 0 0 0 698.66,366.91"/><path id="lp7" d="M306.31,696.88 A275.73,275.73 0 0 0 728.87,396.92"/><path id="lp8" d="M278.05,648.03 A256.71,256.71 0 0 0 719.11,452.50"/><path id="lp9" d="M240.80,631.82 A274.88,274.88 0 0 0 737.23,488.87"/><path id="lp10" d="M200.59,555.85 A276.10,276.10 0 0 0 719.20,572.92"/><path id="lp11" d="M209.50,512.85 A257.10,257.10 0 0 0 684.74,600.13"/><path id="lp12" d="M221.37,458.40 A241.91,241.91 0 0 0 640.64,634.21"/><path id="lp13" d="M193.46,412.58 A275.59,275.59 0 0 0 632.57,687.24"/><path id="lp14" d="M229.68,362.61 A256.85,256.85 0 0 0 572.70,702.24"/><path id="lp15" d="M278.50,265.05 A275.76,275.76 0 0 0 472.60,745.60"/><path id="lp16" d="M368.92,702.58 A250.89,250.89 0 0 1 385.57,231.36"/><path id="lp17" d="M286.75,648.46 A250.82,250.82 0 0 1 483.30,220.00"/><path id="lp18" d="M290.56,632.22 A236.76,236.76 0 0 1 490.83,234.89"/><path id="lp19" d="M232.97,523.63 A236.20,236.20 0 0 1 604.74,281.06"/><path id="lp20" d="M221.95,544.60 A252.33,252.33 0 0 1 599.70,257.91"/><path id="lp21" d="M212.78,480.28 A250.44,250.44 0 0 1 648.08,301.28"/></defs>
<text x="312.2" y="470.1" font-size="14.3" textLength="301.8" lengthAdjust="spacingAndGlyphs">pLV3-U6-MCS-sgRNA-Cas9-EGFP-Puro</text>
<text x="425.4" y="484.1" font-size="10.2" textLength="37.8" lengthAdjust="spacingAndGlyphs">12,971</text>
<g fill="#000" shape-rendering="crispEdges"><rect x="469" y="475" width="1" height="1"/><rect x="471" y="475" width="1" height="1"/><rect x="475" y="475" width="1" height="1"/><rect x="470" y="476" width="1" height="1"/><rect x="472" y="476" width="1" height="1"/><rect x="473" y="476" width="1" height="1"/><rect x="474" y="476" width="1" height="1"/><rect x="475" y="476" width="1" height="1"/><rect x="476" y="476" width="1" height="1"/><rect x="477" y="476" width="1" height="1"/><rect x="469" y="477" width="1" height="1"/><rect x="472" y="477" width="1" height="1"/><rect x="475" y="477" width="1" height="1"/><rect x="469" y="478" width="1" height="1"/><rect x="472" y="478" width="1" height="1"/><rect x="475" y="478" width="1" height="1"/><rect x="477" y="478" width="1" height="1"/><rect x="469" y="479" width="1" height="1"/><rect x="471" y="479" width="1" height="1"/><rect x="472" y="479" width="1" height="1"/><rect x="473" y="479" width="1" height="1"/><rect x="474" y="479" width="1" height="1"/><rect x="475" y="479" width="1" height="1"/><rect x="477" y="479" width="1" height="1"/><rect x="469" y="480" width="1" height="1"/><rect x="471" y="480" width="1" height="1"/><rect x="472" y="480" width="1" height="1"/><rect x="473" y="480" width="1" height="1"/><rect x="474" y="480" width="1" height="1"/><rect x="476" y="480" width="1" height="1"/><rect x="469" y="481" width="1" height="1"/><rect x="471" y="481" width="1" height="1"/><rect x="472" y="481" width="1" height="1"/><rect x="473" y="481" width="1" height="1"/><rect x="474" y="481" width="1" height="1"/><rect x="476" y="481" width="1" height="1"/><rect x="469" y="482" width="1" height="1"/><rect x="470" y="482" width="1" height="1"/><rect x="471" y="482" width="1" height="1"/><rect x="473" y="482" width="1" height="1"/><rect x="474" y="482" width="1" height="1"/><rect x="476" y="482" width="1" height="1"/><rect x="469" y="483" width="1" height="1"/><rect x="471" y="483" width="1" height="1"/><rect x="475" y="483" width="1" height="1"/><rect x="477" y="483" width="1" height="1"/><rect x="479" y="483" width="1" height="1"/><rect x="480" y="483" width="1" height="1"/><rect x="471" y="484" width="1" height="1"/><rect x="474" y="484" width="1" height="1"/><rect x="478" y="484" width="1" height="1"/><rect x="482" y="475" width="1" height="1"/><rect x="486" y="475" width="1" height="1"/><rect x="481" y="476" width="1" height="1"/><rect x="482" y="476" width="1" height="1"/><rect x="483" y="476" width="1" height="1"/><rect x="484" y="476" width="1" height="1"/><rect x="485" y="476" width="1" height="1"/><rect x="486" y="476" width="1" height="1"/><rect x="487" y="476" width="1" height="1"/><rect x="488" y="476" width="1" height="1"/><rect x="482" y="477" width="1" height="1"/><rect x="483" y="477" width="1" height="1"/><rect x="484" y="477" width="1" height="1"/><rect x="485" y="477" width="1" height="1"/><rect x="486" y="477" width="1" height="1"/><rect x="482" y="478" width="1" height="1"/><rect x="483" y="478" width="1" height="1"/><rect x="484" y="478" width="1" height="1"/><rect x="485" y="478" width="1" height="1"/><rect x="486" y="478" width="1" height="1"/><rect x="482" y="479" width="1" height="1"/><rect x="484" y="479" width="1" height="1"/><rect x="486" y="479" width="1" height="1"/><rect x="481" y="480" width="1" height="1"/><rect x="482" y="480" width="1" height="1"/><rect x="483" y="480" width="1" height="1"/><rect x="484" y="480" width="1" height="1"/><rect x="485" y="480" width="1" height="1"/><rect x="486" y="480" width="1" height="1"/><rect x="487" y="480" width="1" height="1"/><rect x="488" y="480" width="1" height="1"/><rect x="482" y="481" width="1" height="1"/><rect x="484" y="481" width="1" height="1"/><rect x="486" y="481" width="1" height="1"/><rect x="481" y="482" width="1" height="1"/><rect x="482" y="482" width="1" height="1"/><rect x="483" y="482" width="1" height="1"/><rect x="484" y="482" width="1" height="1"/><rect x="485" y="482" width="1" height="1"/><rect x="486" y="482" width="1" height="1"/><rect x="487" y="482" width="1" height="1"/><rect x="488" y="482" width="1" height="1"/><rect x="484" y="483" width="1" height="1"/><rect x="481" y="484" width="1" height="1"/><rect x="482" y="484" width="1" height="1"/><rect x="483" y="484" width="1" height="1"/><rect x="484" y="484" width="1" height="1"/><rect x="485" y="484" width="1" height="1"/><rect x="486" y="484" width="1" height="1"/><rect x="487" y="484" width="1" height="1"/><rect x="498" y="475" width="1" height="1"/><rect x="492" y="476" width="1" height="1"/><rect x="493" y="476" width="1" height="1"/><rect x="494" y="476" width="1" height="1"/><rect x="498" y="476" width="1" height="1"/><rect x="494" y="477" width="1" height="1"/><rect x="495" y="477" width="1" height="1"/><rect x="496" y="477" width="1" height="1"/><rect x="497" y="477" width="1" height="1"/><rect x="498" y="477" width="1" height="1"/><rect x="499" y="477" width="1" height="1"/><rect x="491" y="478" width="1" height="1"/><rect x="493" y="478" width="1" height="1"/><rect x="498" y="478" width="1" height="1"/><rect x="492" y="479" width="1" height="1"/><rect x="493" y="479" width="1" height="1"/><rect x="495" y="479" width="1" height="1"/><rect x="498" y="479" width="1" height="1"/><rect x="492" y="480" width="1" height="1"/><rect x="493" y="480" width="1" height="1"/><rect x="496" y="480" width="1" height="1"/><rect x="498" y="480" width="1" height="1"/><rect x="492" y="481" width="1" height="1"/><rect x="493" y="481" width="1" height="1"/><rect x="498" y="481" width="1" height="1"/><rect x="491" y="482" width="1" height="1"/><rect x="494" y="482" width="1" height="1"/><rect x="498" y="482" width="1" height="1"/><rect x="491" y="483" width="1" height="1"/><rect x="494" y="483" width="1" height="1"/><rect x="498" y="483" width="1" height="1"/><rect x="497" y="484" width="1" height="1"/></g>
</svg>
</body></html>
